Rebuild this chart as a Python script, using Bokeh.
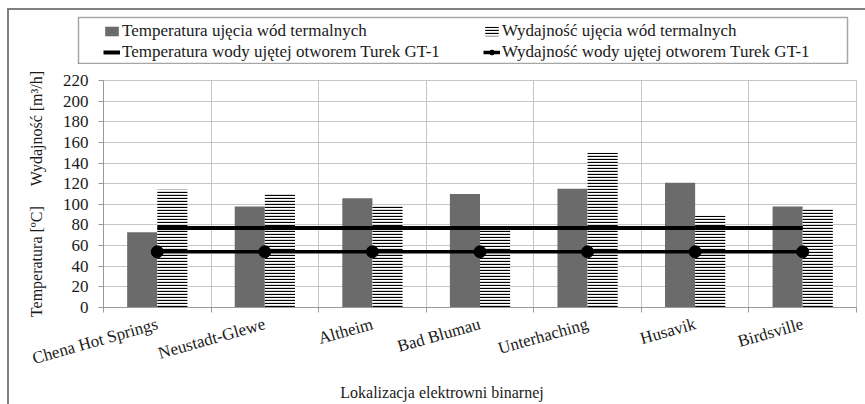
import numpy as np
from bokeh.plotting import figure
from bokeh.layouts import column
from bokeh.models import (Range1d, FixedTicker, Legend, LegendItem,
                          ColumnDataSource)
from bokeh.transform import dodge
from bokeh.embed import file_html
from bokeh.resources import INLINE

# ---- data ----
categories = ["Chena Hot Springs", "Neustadt-Glewe", "Altheim", "Bad Blumau",
              "Unterhaching", "Husavik", "Birdsville"]
temperatura = [73, 98, 106, 110, 115, 121, 98]
wydajnosc = [114, 110, 99, 79, 150, 89, 96]
turek_temperatura = [77, 77, 77, 77, 77, 77, 77]
turek_wydajnosc = [54, 54, 54, 54, 54, 54, 54]
y_ticks = [0, 20, 40, 60, 80, 100, 120, 140, 160, 180, 200, 220]
legend_labels = ["Temperatura ujęcia wód termalnych",
                 "Temperatura wody ujętej otworem Turek GT-1",
                 "Wydajność ujęcia wód termalnych",
                 "Wydajność wody ujętej otworem Turek GT-1"]

FONT = "Liberation Serif"
AX = "#9a9a9a"
GRID = "#c6c6c6"
TXT = "#1a1a1a"
NB = "\u00a0"
BAR_GRAY = "#6b6b6b"

n = len(categories)
centers = [i + 0.5 for i in range(n)]
src = ColumnDataSource(dict(x=centers, temp=temperatura, wyd=wydajnosc,
                            tt=turek_temperatura, tw=turek_wydajnosc))

# ---------------- main chart ----------------
p = figure(width=856, height=340, x_range=Range1d(0, n), y_range=Range1d(0, 220),
           output_backend="svg", toolbar_location=None,
           min_border_left=94, min_border_right=9, min_border_top=16,
           min_border_bottom=97)
p.frame_align = False

bar_a = dict(fill_color=BAR_GRAY, line_color=None)
bar_b = dict(fill_color="white", line_color=None, hatch_pattern="horizontal_line",
             hatch_color="black", hatch_scale=3, hatch_weight=1.3)
line_a = dict(line_width=4, line_color="black")
line_b = dict(line_width=3.5, line_color="black")
mark_b = dict(size=12, fill_color="black", line_color="black")

p.vbar(x=dodge('x', -0.14, range=p.x_range), top='temp', width=0.28, source=src, **bar_a)
p.vbar(x=dodge('x', 0.14, range=p.x_range), top='wyd', width=0.28, source=src, **bar_b)
p.line('x', 'tt', source=src, **line_a)
p.line('x', 'tw', source=src, **line_b)
p.scatter('x', 'tw', source=src, **mark_b)

xt = FixedTicker(ticks=centers, minor_ticks=list(range(n + 1)))
p.xaxis.ticker = xt
p.xgrid.ticker = xt
p.xaxis.major_label_overrides = {c: name for c, name in zip(centers, categories)}
p.xaxis.major_tick_out = 0
p.xaxis.major_tick_in = 0
p.xaxis.minor_tick_out = 5
p.xaxis.minor_tick_in = 0
p.xaxis.minor_tick_line_color = AX
p.xaxis.major_label_orientation = 0.276
p.xaxis.major_label_standoff = 11
p.xgrid.grid_line_color = None
p.xgrid.minor_grid_line_color = GRID
p.xaxis.axis_label = "Lokalizacja elektrowni binarnej" + NB * 19
p.xaxis.axis_label_standoff = 4
p.xaxis.axis_label_text_font_size = "16px"

yt = FixedTicker(ticks=y_ticks)
p.yaxis.ticker = yt
p.ygrid.ticker = yt
p.yaxis.major_tick_out = 5
p.yaxis.major_tick_in = 0
p.yaxis.minor_tick_line_color = None
p.yaxis.major_label_standoff = 10
p.ygrid.grid_line_color = GRID
p.yaxis.axis_label = "Temperatura [ºC]" + NB * 5 + "Wydajność [m³/h]"
p.yaxis.axis_label_standoff = 15
p.yaxis.axis_label_text_font_size = "16px"

for ax in (p.xaxis, p.yaxis):
    ax.axis_line_color = AX
    ax.major_tick_line_color = AX
    ax.major_label_text_font = FONT
    ax.major_label_text_font_size = "17px"
    ax.major_label_text_color = TXT
    ax.axis_label_text_font = FONT
    ax.axis_label_text_font_style = "normal"
    ax.axis_label_text_color = TXT
p.outline_line_color = GRID

# ---------------- legend strip ----------------
# legend glyphs reuse the chart data, drawn outside this strip's visible range
lf = figure(width=856, height=54, x_range=Range1d(100, 101), y_range=Range1d(1000, 1001),
            x_axis_type=None, y_axis_type=None,
            output_backend="svg", toolbar_location=None,
            min_border_left=69, min_border_right=18, min_border_top=7,
            min_border_bottom=1)
lf.frame_align = False
lf.grid.visible = False
lf.outline_line_color = "#a6a6a6"
lf.outline_line_width = 1.5
l1 = lf.vbar(x='x', top='temp', width=0.28, source=src, **bar_a)
l2 = lf.line('x', 'tt', source=src, **line_a)
l3 = lf.vbar(x='x', top='wyd', width=0.28, source=src, **bar_b)
l4 = lf.line('x', 'tw', source=src, **line_b)
l5 = lf.scatter('x', 'tw', source=src, **mark_b)

legend = Legend(items=[
    LegendItem(label=legend_labels[0], renderers=[l1]),
    LegendItem(label=legend_labels[1], renderers=[l2]),
    LegendItem(label=legend_labels[2], renderers=[l3]),
    LegendItem(label=legend_labels[3], renderers=[l4, l5]),
], ncols=2, location=(25, 1), padding=0, spacing=1, margin=0,
    border_line_color=None, background_fill_alpha=0,
    glyph_width=17, glyph_height=12, label_height=20, label_standoff=2,
    label_width=360, label_text_font=FONT, label_text_font_size="17px",
    label_text_color=TXT)
lf.add_layout(legend, "center")

layout = column(lf, p, spacing=0,
                styles={"margin-left": "7px", "margin-top": "8px",
                        "border-top": "2px solid #7f7f7f",
                        "border-left": "2px solid #7f7f7f"})

open("out.html", "w").write(file_html(layout, INLINE))
